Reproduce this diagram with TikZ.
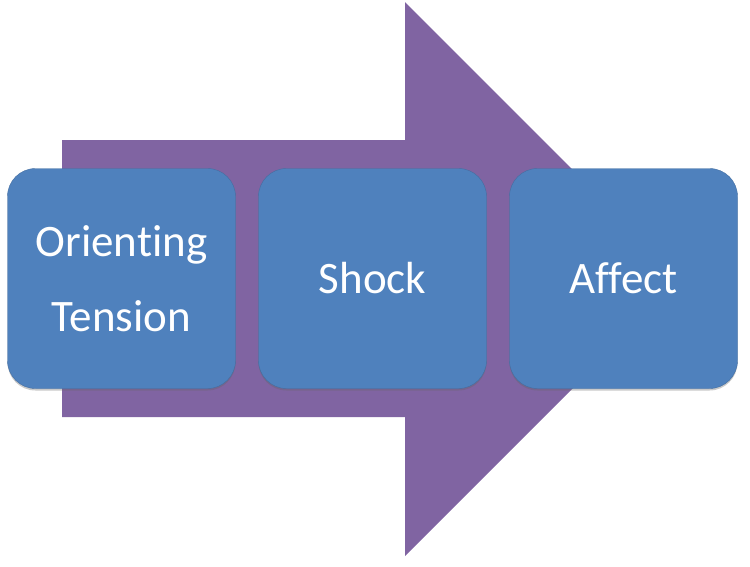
\documentclass[tikz,border=0pt]{standalone}
\usepackage{fontspec}
\setmainfont[Ligatures=NoCommon]{Carlito}
\usetikzlibrary{shadows}
\definecolor{boxblue}{RGB}{79,129,189}
\definecolor{arrowpurple}{RGB}{128,100,162}
\tikzset{
  stagebox/.style={fill=boxblue, draw=boxblue!85!black, line width=0.4pt, rounded corners=28pt,
    minimum width=228pt, minimum height=220pt, inner sep=0pt,
    text=white, align=center, font=\fontsize{45}{75}\selectfont,
    drop shadow={shadow xshift=0pt, shadow yshift=-2pt, opacity=0.35, fill=black!60}},
  bigarrow/.style={fill=arrowpurple, draw=none}
}
\begin{document}
\begin{tikzpicture}[x=1pt,y=-1pt]
\useasboundingbox (0,0) rectangle (750,566);
\fill[bigarrow] (62,140) -- (405,140) -- (405,2) -- (682,279) -- (405,556) -- (405,417) -- (62,417) -- cycle;
\node[stagebox] (orient) at (121.5,278.5) {Orienting\\Tension};
\node[stagebox] (shock) at (372.5,278.5) {Shock};
\node[stagebox] (affect) at (623.5,278.5) {Affect};
\end{tikzpicture}
\end{document}
